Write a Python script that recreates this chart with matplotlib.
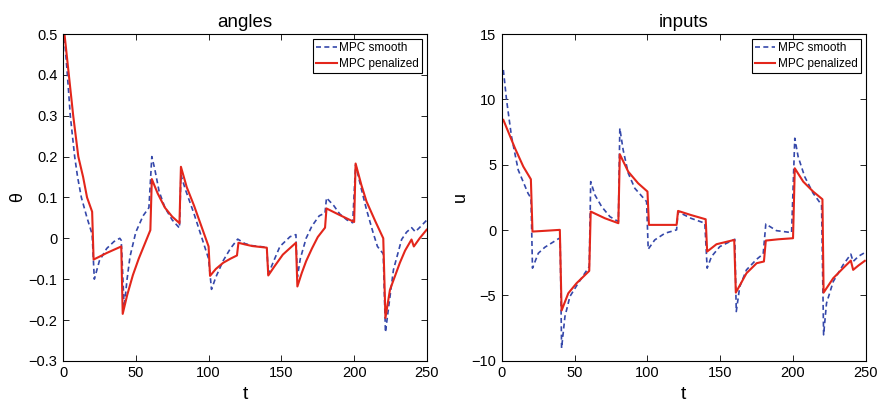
import matplotlib
matplotlib.use('Agg')
import matplotlib.pyplot as plt

# angles (theta)
t_theta_smooth = [1, 3, 5, 8, 10, 12.6, 16.5, 20, 21.5, 25, 30, 35, 39, 40, 42, 44, 46, 50, 55, 59,
                  61, 63, 66, 70, 75, 80, 81, 84, 87, 90, 95, 100, 102, 105, 110, 115, 120,
                  125, 130, 140, 141, 144.7, 149, 156, 160, 161, 163, 167, 171, 176, 180, 181,
                  186, 190, 195, 199, 201, 205, 208.5, 213, 216, 220, 221.5, 224, 227, 232.6,
                  236, 239.5, 242, 246, 250]
theta_smooth = [0.49, 0.40, 0.30, 0.20, 0.15, 0.10, 0.05, 0.01, -0.10, -0.055, -0.025, -0.008, 0.0,
                -0.005, -0.17, -0.10, -0.045, 0.015, 0.055, 0.075, 0.20, 0.17, 0.115, 0.075, 0.045,
                0.025, 0.155, 0.12, 0.09, 0.06, 0.005, -0.05, -0.125, -0.095, -0.055, -0.025,
                -0.002, -0.013, -0.018, -0.022, -0.088, -0.056, -0.02, 0.004, 0.009, -0.095, -0.05,
                0.0, 0.03, 0.055, 0.062, 0.099, 0.08, 0.06, 0.045, 0.038, 0.18, 0.12, 0.07, 0.014,
                -0.02, -0.038, -0.23, -0.16, -0.077, -0.003, 0.015, 0.026, 0.016, 0.03, 0.045]

t_theta_pen = [1, 4, 7, 10.5, 13.8, 16.5, 20, 21, 25, 30, 35, 40, 41, 44, 48, 52, 56, 60, 61, 65,
               70, 75, 80, 81, 85, 90, 95, 100, 101, 105, 110, 115, 119.5, 120.5, 125, 130, 135,
               140, 141, 145, 151, 155, 160, 161, 164, 167, 171, 175, 180, 181, 190, 200, 201,
               205, 208.5, 214.5, 220, 221.5, 224.6, 231.4, 235, 239.4, 241, 245, 249.8]
theta_pen = [0.50, 0.40, 0.30, 0.20, 0.15, 0.10, 0.065, -0.052, -0.045, -0.036, -0.028, -0.02,
             -0.185, -0.14, -0.09, -0.05, -0.015, 0.02, 0.145, 0.11, 0.075, 0.053, 0.037, 0.175,
             0.125, 0.08, 0.03, -0.02, -0.092, -0.075, -0.06, -0.05, -0.042, -0.011, -0.015,
             -0.019, -0.021, -0.023, -0.091, -0.07, -0.04, -0.027, -0.011, -0.118, -0.085,
             -0.056, -0.025, 0.003, 0.026, 0.073, 0.057, 0.04, 0.183, 0.13, 0.09, 0.042, 0.0,
             -0.195, -0.126, -0.06, -0.03, -0.003, -0.02, 0.0, 0.021]

# inputs (u)
t_u_smooth = [1, 3.2, 6.6, 11.2, 18, 20, 21, 25, 29.5, 38.7, 40, 41, 43.3, 46.7, 52.4, 60, 61, 63.9,
              68.5, 74.2, 80, 81, 83.3, 86.8, 91.3, 99.4, 100.5, 105, 112, 120, 121, 130, 139.4,
              141, 144, 149.7, 159, 160, 161, 163.4, 168, 175, 179.5, 181.3, 188.6, 199, 201.2,
              203.5, 208, 213.8, 219.6, 221, 223, 227.6, 234.4, 239.7, 241.3, 245, 249.3]
u_smooth = [12.25, 9.95, 7.15, 4.6, 2.8, 2.44, -2.91, -1.77, -1.31, -0.67, -0.6, -9.03, -6.61,
            -5.08, -4.06, -2.79, 3.71, 2.69, 1.8, 1.03, 0.65, 7.79, 6.13, 4.35, 3.2, 2.18, -1.46,
            -0.75, -0.24, 0.02, 1.4, 0.9, 0.53, -2.91, -2.02, -1.26, -0.75, -0.7, -6.23, -4.32,
            -3.04, -2.23, -1.82, 0.47, -0.04, -0.19, 7.03, 5.62, 4.09, 2.82, 1.93, -8.01, -5.59,
            -3.94, -2.66, -1.84, -2.4, -2.0, -1.72]

t_u_pen = [1, 9, 14.7, 19.9, 21, 30, 39.8, 41, 45.6, 51.3, 60, 61, 70.7, 80, 81, 86.8, 93.6, 100,
           101, 110, 120, 121, 130, 140, 141, 147.4, 159.6, 160.7, 168, 175, 180, 181.3, 190, 200,
           201.2, 207, 213.8, 220.2, 221, 227.6, 234.4, 239.7, 241.3, 245, 249.3]
u_pen = [8.43, 6.26, 4.86, 3.89, -0.11, -0.05, 0.02, -6.15, -4.83, -4.06, -3.12, 1.42, 0.91,
         0.53, 5.8, 4.47, 3.58, 2.95, 0.40, 0.40, 0.40, 1.47, 1.15, 0.83, -1.64, -1.08, -0.75,
         -4.78, -3.3, -2.53, -2.4, -0.8, -0.7, -0.62, 4.73, 3.71, 2.95, 2.36, -4.78, -3.68, -2.91,
         -2.33, -3.04, -2.7, -2.35]

plt.rcParams['font.family'] = ['Liberation Sans', 'DejaVu Sans']

BLUE = '#3548aa'
RED = '#e3261b'

fig = plt.figure(figsize=(8.79, 4.05), dpi=100)
ax1 = fig.add_axes([0.0717, 0.109, 0.414, 0.807])
ax2 = fig.add_axes([0.571, 0.109, 0.414, 0.807])

panels = [
    (ax1, t_theta_smooth, theta_smooth, t_theta_pen, theta_pen, 'angles', '\u03b8',
     (-0.3, 0.5), [-0.3, -0.2, -0.1, 0, 0.1, 0.2, 0.3, 0.4, 0.5],
     ['\u22120.3', '\u22120.2', '\u22120.1', '0', '0.1', '0.2', '0.3', '0.4', '0.5']),
    (ax2, t_u_smooth, u_smooth, t_u_pen, u_pen, 'inputs', 'u',
     (-10, 15), [-10, -5, 0, 5, 10, 15],
     ['\u221210', '\u22125', '0', '5', '10', '15']),
]

for ax, ts, ys, tp, yp, title, ylabel, ylim, yticks, yticklabels in panels:
    ax.plot(ts, ys, linestyle='--', dashes=(3, 2), color=BLUE, linewidth=1.2, label='MPC smooth')
    ax.plot(tp, yp, linestyle='-', color=RED, linewidth=1.5, label='MPC penalized')
    ax.set_xlim(0, 250)
    ax.set_ylim(*ylim)
    ax.set_xticks([0, 50, 100, 150, 200, 250])
    ax.set_yticks(yticks)
    ax.set_yticklabels(yticklabels)
    ax.tick_params(direction='in', top=True, right=True, labelsize=10.5, length=4, width=0.6, pad=4)
    for sp in ax.spines.values():
        sp.set_linewidth(0.8)
    ax.set_title(title, fontsize=13.5, pad=5)
    ax.set_xlabel('t', fontsize=14, labelpad=4)
    ax.set_ylabel(ylabel, fontsize=13, labelpad=2)
    leg = ax.legend(loc='upper right', fontsize=8.5, fancybox=False, framealpha=1,
                    edgecolor='black', handlelength=1.7, handletextpad=0.2,
                    borderpad=0.3, labelspacing=0.3, borderaxespad=0.4)
    leg.get_frame().set_linewidth(0.8)

fig.savefig('out.png', dpi=100)
plt.close()
